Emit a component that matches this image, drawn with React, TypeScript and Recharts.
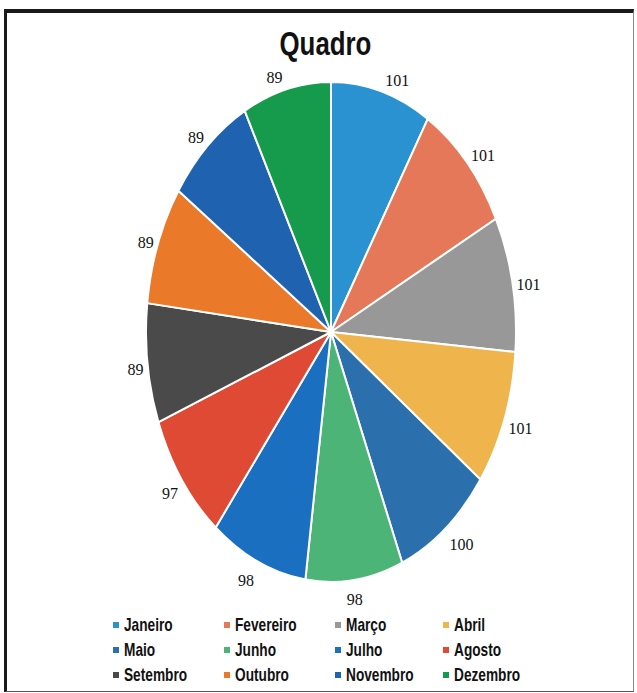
import { PieChart, Pie, Cell, Legend } from 'recharts';

const months = [
  'Janeiro', 'Fevereiro', 'Março', 'Abril',
  'Maio', 'Junho', 'Julho', 'Agosto',
  'Setembro', 'Outubro', 'Novembro', 'Dezembro',
];
const values = [101, 101, 101, 101, 100, 98, 98, 97, 89, 89, 89, 89];
const colors = [
  '#2a92d0', '#e6785a', '#989898', '#efb44c',
  '#2b6fad', '#4db477', '#1b6fc0', '#df4a35',
  '#4a4a4a', '#ea7a2a', '#1f63b0', '#169a4c',
];

const data = months.map((name, i) => ({ name, value: values[i] }));

// the scanned chart is squashed sideways: draw sectors as ellipse pieces
const SX = 185 / 250;
const RAD = Math.PI / 180;
const narrow = "'Liberation Sans', Arial, sans-serif";

function EllipseSector(props: any) {
  const { cx, cy, outerRadius, startAngle, endAngle, fill } = props;
  const rx = outerRadius * SX;
  const ry = outerRadius;
  const p = (a: number) => [cx + rx * Math.cos(a * RAD), cy - ry * Math.sin(a * RAD)];
  const [x1, y1] = p(startAngle);
  const [x2, y2] = p(endAngle);
  const large = Math.abs(endAngle - startAngle) > 180 ? 1 : 0;
  const sweep = endAngle < startAngle ? 1 : 0;
  const d = `M${cx},${cy} L${x1},${y1} A${rx},${ry} 0 ${large} ${sweep} ${x2},${y2} Z`;
  return <path d={d} fill={fill} stroke="#fff" strokeWidth={2} strokeLinejoin="round" />;
}

function renderLabel(props: any) {
  const { cx, cy, midAngle, outerRadius, value } = props;
  const s = Math.cos(midAngle * RAD);
  const c = Math.sin(midAngle * RAD);
  const px = cx + outerRadius * SX * s;
  const py = cy - outerRadius * c;
  let anchor: 'start' | 'middle' | 'end' = 'middle';
  let x = px;
  if (s > 0.2) { anchor = 'start'; x = px + 4; }
  else if (s < -0.2) { anchor = 'end'; x = px - 4; }
  const y = py - c * 16 + 4;
  return (
    <text
      x={x}
      y={y}
      textAnchor={anchor}
      dominantBaseline="central"
      fontFamily="'Liberation Serif', serif"
      fontSize={16}
      fontWeight={500}
      fill="#111"
    >
      {value}
    </text>
  );
}

function renderLegend() {
  return (
    <div
      style={{
        display: 'grid',
        gridTemplateColumns: '111px 111px 108px 100px',
        rowGap: 4,
        paddingLeft: 113,
        fontFamily: narrow,
        fontWeight: 'bold',
        fontSize: 19,
        color: '#111',
      }}
    >
      {months.map((m, i) => (
        <div key={m} style={{ display: 'flex', alignItems: 'center', height: 21, whiteSpace: 'nowrap' }}>
          <span
            style={{
              display: 'inline-block',
              width: 6,
              height: 6,
              background: colors[i],
              marginRight: 5,
              flex: 'none',
            }}
          />
          <span style={{ display: 'inline-block', transform: 'scaleX(0.72)', transformOrigin: 'left center' }}>
            {m}
          </span>
        </div>
      ))}
    </div>
  );
}

export default function App() {
  return (
    <div style={{ position: 'fixed', left: 0, top: 0, width: 637, height: 693, background: '#fff' }}>
      <div
        style={{
          position: 'absolute',
          left: 4,
          top: 9,
          width: 626,
          height: 678,
          borderTop: '4px solid #1a1a1a',
          borderLeft: '3px solid #1a1a1a',
          borderRight: '1px solid #888',
          borderBottom: '1px solid #555',
        }}
      />
      <div
        style={{
          position: 'absolute',
          left: 0,
          top: 24,
          width: 650,
          textAlign: 'center',
          fontFamily: narrow,
          fontWeight: 'bold',
          fontSize: 34,
          color: '#111',
        }}
      >
        <span style={{ display: 'inline-block', transform: 'scaleX(0.76)' }}>Quadro</span>
      </div>
      <div style={{ position: 'absolute', left: 0, top: 0 }}>
        <PieChart width={637} height={693} margin={{ top: 0, right: 0, bottom: 0, left: 0 }}>
          <Pie
            data={data}
            dataKey="value"
            nameKey="name"
            cx={331}
            cy={332}
            outerRadius={250}
            startAngle={90}
            endAngle={-270}
            stroke="#fff"
            strokeWidth={2}
            shape={EllipseSector}
            activeShape={EllipseSector}
            inactiveShape={EllipseSector}
            label={renderLabel}
            labelLine={false}
            isAnimationActive={false}
          >
            {data.map((d, i) => (
              <Cell key={d.name} fill={colors[i]} />
            ))}
          </Pie>
          <Legend
            content={renderLegend}
            wrapperStyle={{ position: 'absolute', left: 0, top: 614, width: 637 }}
          />
        </PieChart>
      </div>
    </div>
  );
}
